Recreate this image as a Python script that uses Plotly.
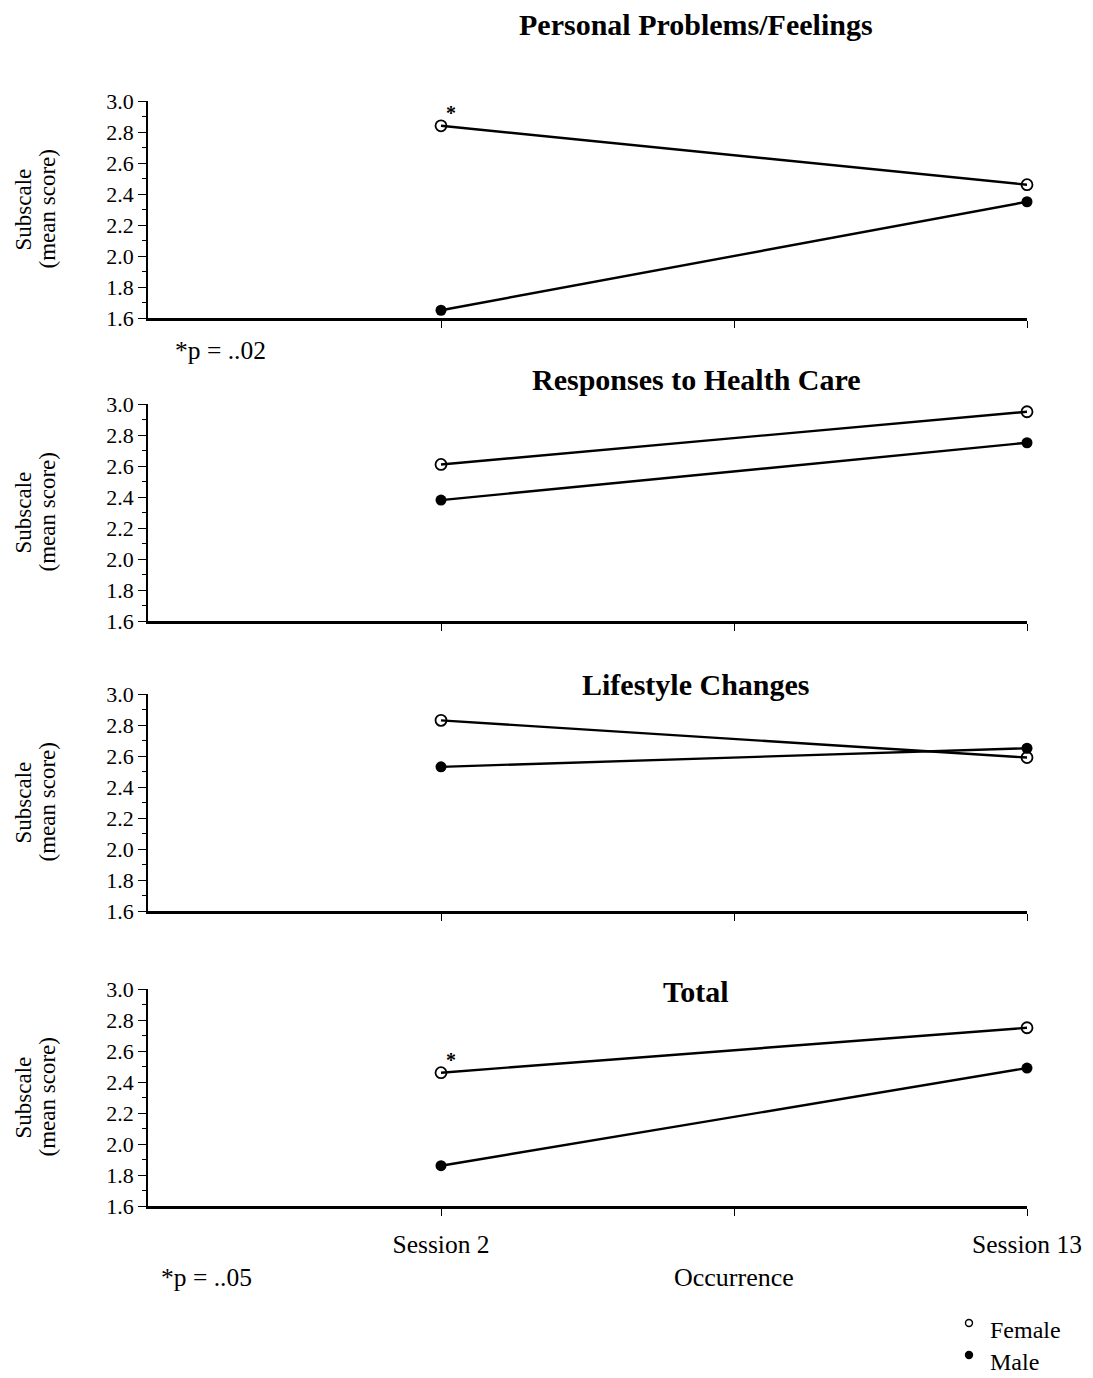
import plotly.graph_objects as go

# ---- data ----
sessions = ["Session 2", "Session 13"]
session_pos = [1, 3]          # category positions on the occurrence axis
panel_titles = ["Personal Problems/Feelings", "Responses to Health Care",
                "Lifestyle Changes", "Total"]
female = [
    [2.84, 2.46],
    [2.61, 2.95],
    [2.83, 2.59],
    [2.46, 2.75],
]
male = [
    [1.65, 2.35],
    [2.38, 2.75],
    [2.53, 2.65],
    [1.86, 2.49],
]
significant = [True, False, False, True]   # asterisk on female Session 2
footnotes = ["*p = ..02", "", "", "*p = ..05"]
y_ticks = [1.6, 1.8, 2.0, 2.2, 2.4, 2.6, 2.8, 3.0]
legend_names = ["Female", "Male"]
y_title_lines = ["Subscale", "(mean score)"]

# the page body has an 8px margin, so layout is computed in page pixels minus 8
OFF = 8
W, H = 1093 - OFF, 1378 - OFF
FONT = "Liberation Serif, Times New Roman, serif"

# page-pixel layout of panels (top, bottom)
panel_px = [(101, 318), (404, 621), (694, 911), (989, 1206)]
x_left, x_right = 148, 1027
title_y_px = [25, 379, 684, 991]

def px(v):
    return (v - OFF) / W

def py(v):
    return 1 - (v - OFF) / H

fig = go.Figure()
annotations = []
shapes = []

for i in range(4):
    ax = "" if i == 0 else str(i + 1)
    xa, ya = "x" + ax, "y" + ax
    fig.add_trace(go.Scatter(
        x=session_pos, y=female[i], xaxis=xa, yaxis=ya, mode="lines+markers",
        line=dict(color="black", width=2.4),
        marker=dict(symbol="circle-open", size=11, color="black", line=dict(width=1.8)),
        showlegend=False, cliponaxis=False, name="Female"))
    fig.add_trace(go.Scatter(
        x=session_pos, y=male[i], xaxis=xa, yaxis=ya, mode="lines+markers",
        line=dict(color="black", width=2.4),
        marker=dict(symbol="circle", size=11, color="black"),
        showlegend=False, cliponaxis=False, name="Male"))

    top, bot = panel_px[i]
    bottom_panel = (i == 3)
    fig.layout["xaxis" + ax] = dict(
        domain=[px(x_left), px(x_right)], range=[0, 3], anchor=ya,
        showline=True, linecolor="black", linewidth=2.5, mirror=False,
        tickmode="array", tickvals=[1, 2, 3],
        ticktext=([sessions[0], "", sessions[1]] if bottom_panel else ["", "", ""]),
        ticks="outside", ticklen=7, tickwidth=1, tickcolor="black",
        ticklabelstandoff=7, automargin=False,
        showgrid=False, zeroline=False,
        tickfont=dict(family=FONT, size=25.5, color="black"),
    )
    fig.layout["yaxis" + ax] = dict(
        domain=[py(bot), py(top)], range=[1.6, 3.0], anchor=xa,
        showline=True, linecolor="black", linewidth=1.5, automargin=False,
        tickmode="array", tickvals=y_ticks,
        ticktext=[f"{v:.1f}" for v in y_ticks],
        ticks="outside", ticklen=8, tickwidth=1.2, tickcolor="black",
        minor=dict(dtick=0.1, ticks="outside", ticklen=4, tickwidth=1, tickcolor="black"),
        showgrid=False, zeroline=False,
        tickfont=dict(family=FONT, size=22, color="black"),
    )
    # panel title
    annotations.append(dict(
        text=f"<b>{panel_titles[i]}</b>", xref="paper", yref="paper",
        x=px(696), y=py(title_y_px[i]), xanchor="center", yanchor="middle",
        showarrow=False, font=dict(family=FONT, size=30, color="black")))
    # y axis title (two rotated lines)
    for j, (line_txt, xline) in enumerate(zip(y_title_lines, [23, 47])):
        annotations.append(dict(
            text=line_txt, xref="paper", yref="paper",
            x=px(xline), y=py((top + bot) / 2), xanchor="center", yanchor="middle",
            textangle=-90, showarrow=False,
            font=dict(family=FONT, size=23, color="black")))
    if significant[i]:
        annotations.append(dict(
            text="<b>*</b>", xref=xa, yref=ya, x=session_pos[0], y=female[i][0],
            xshift=10, yshift=13, showarrow=False,
            font=dict(family=FONT, size=20, color="black")))

# footnotes
annotations.append(dict(text=footnotes[0], xref="paper", yref="paper",
                        x=px(220), y=py(351), xanchor="center", yanchor="middle",
                        showarrow=False, font=dict(family=FONT, size=25.5, color="black")))
annotations.append(dict(text=footnotes[3], xref="paper", yref="paper",
                        x=px(206), y=py(1277), xanchor="center", yanchor="middle",
                        showarrow=False, font=dict(family=FONT, size=25.5, color="black")))
# x axis title
annotations.append(dict(text="Occurrence", xref="x4", yref="paper",
                        x=2, y=py(1277), xanchor="center", yanchor="middle",
                        showarrow=False, font=dict(family=FONT, size=26, color="black")))

# legend (drawn as key symbols + labels)
legend_y_px = [1330, 1362]
for k, name in enumerate(legend_names):
    yk = py(legend_y_px[k] - 7)
    shapes.append(dict(
        type="circle", xref="paper", yref="paper",
        xsizemode="pixel", ysizemode="pixel",
        xanchor=px(969), yanchor=yk, x0=-3.5, x1=3.5, y0=-3.5, y1=3.5,
        line=dict(color="black", width=1.4),
        fillcolor=("white" if name == "Female" else "black")))
    annotations.append(dict(text=name, xref="paper", yref="paper",
                            x=px(988), y=py(legend_y_px[k]), xanchor="left",
                            yanchor="middle", showarrow=False,
                            font=dict(family=FONT, size=24, color="black")))

fig.update_layout(
    width=W, height=H,
    margin=dict(l=0, r=0, t=0, b=0, autoexpand=False),
    paper_bgcolor="white", plot_bgcolor="white",
    annotations=annotations,
    shapes=shapes,
    showlegend=False,
    font=dict(family=FONT, color="black"),
)

fig.write_html("out.html")
